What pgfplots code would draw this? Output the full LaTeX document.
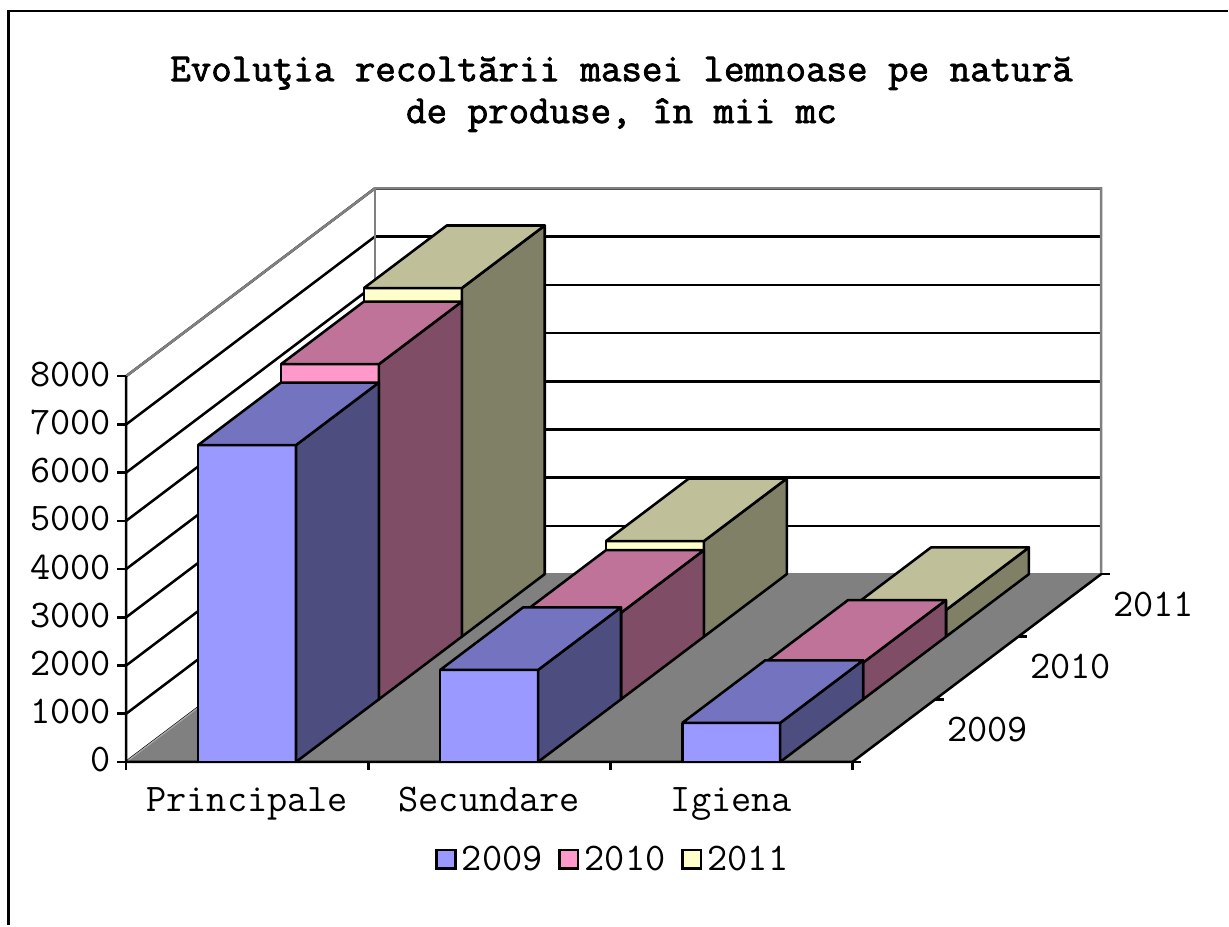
\documentclass[border=0pt]{standalone}
\usepackage{fontspec}
\setmainfont{Liberation Mono}
\newfontfamily\labelfont{Latin Modern Mono}
\newfontfamily\titlefont[FakeBold=2]{Latin Modern Mono}
\usepackage{pgfplots}
\pgfplotsset{compat=1.18}

\definecolor{floorgray}{HTML}{808080}
\definecolor{bluefront}{HTML}{9999FF}
\definecolor{bluetop}{HTML}{7373BF}
\definecolor{blueside}{HTML}{4D4D80}
\definecolor{pinkfront}{HTML}{FF99CC}
\definecolor{pinktop}{HTML}{BF7399}
\definecolor{pinkside}{HTML}{804D66}
\definecolor{yellowfront}{HTML}{FFFFCC}
\definecolor{yellowtop}{HTML}{BFBF99}
\definecolor{yellowside}{HTML}{808066}

% category, series row, value, colour prefix
\newcommand{\bbar}[4]{%
  \pgfmathsetmacro{\xa}{#1+0.297}%
  \pgfmathsetmacro{\xb}{#1+0.7015}%
  \pgfmathsetmacro{\yb}{#2+1}%
  \addplot3[face,fill=#4front] coordinates {(\xa,#2,0)(\xb,#2,0)(\xb,#2,#3)(\xa,#2,#3)(\xa,#2,0)};
  \addplot3[face,fill=#4side] coordinates {(\xb,#2,0)(\xb,\yb,0)(\xb,\yb,#3)(\xb,#2,#3)(\xb,#2,0)};
  \addplot3[face,fill=#4top] coordinates {(\xa,#2,#3)(\xb,#2,#3)(\xb,\yb,#3)(\xa,\yb,#3)(\xa,#2,#3)};
}

\begin{document}
\begin{tikzpicture}
\begin{axis}[
  x={(181.75pt,0pt)}, y={(62.25pt,47pt)}, z={(0pt,0.0361875pt)},
  xmin=0, xmax=3, ymin=0, ymax=3, zmin=0, zmax=8000,
  clip=false,
  axis line style={draw=none},
  major tick length=0pt,
  xtick={0,1,2,3}, x tick label as interval,
  xticklabels={Principale,Secundare,Igiena},
  ytick={0,1,2,3}, y tick label as interval,
  yticklabels={2009,2010,2011},
  ztick={0,1000,...,8000},
  zmajorgrids,
  grid style={black,line width=1.9pt},
  /pgf/number format/assume math mode=true,
  /pgf/number format/1000 sep={},
  ticklabel style={font=\labelfont\fontsize{29.4}{34}\selectfont,text=black},
  x tick label style={anchor=north,yshift=-15.5pt},
  y tick label style={anchor=west,xshift=36.5pt,yshift=0.8pt},
  z tick label style={anchor=east,xshift=-8pt,yshift=1.5pt},
  title={Evoluţia recoltării masei lemnoase pe natură\\de produse, în mii mc},
  title style={at={(axis description cs:0.508,1.15)},anchor=center,align=center,
    font=\titlefont\fontsize{29.9}{31.5}\selectfont},
  legend columns=3,
  legend style={at={(axis description cs:0.4995,-0.170)},anchor=center,draw=none,
    fill=none,font=\labelfont\fontsize{29.4}{34}\selectfont,
    /tikz/every even column/.append style={column sep=9.75pt},
    /tikz/every odd column/.append style={column sep=2pt}},
  legend image code/.code={\draw[#1,line width=1.9pt] (0pt,-7pt) rectangle (14pt,7pt);},
  face/.style={draw=black,line width=1.9pt,line join=round},
  wall/.style={draw=floorgray,line width=1.9pt},
  edge/.style={draw=black,line width=1.9pt},
]
\addlegendimage{fill=bluefront,draw=black}\addlegendentry{2009}
\addlegendimage{fill=pinkfront,draw=black}\addlegendentry{2010}
\addlegendimage{fill=yellowfront,draw=black}\addlegendentry{2011}

% floor and edges of the walls
\addplot3[fill=floorgray,draw=none] coordinates {(0,0,0)(3,0,0)(3,3,0)(0,3,0)(0,0,0)};
\addplot3[wall] coordinates {(0,0,8000)(0,3,8000)(3,3,8000)(3,3,0)};
\addplot3[wall] coordinates {(0,3,8000)(0,3,0)(3,3,0)};
\addplot3[draw=floorgray!70,line width=1pt] coordinates {(0,0,0)(0,3,0)};
\addplot3[edge] coordinates {(0,0,8000)(0,0,0)(3,0,0)(3,3,0)};

% tick marks
\pgfplotsinvokeforeach{0,1000,...,8000}{
  \addplot3[edge] coordinates {(0,0,#1)(-0.0371,0,#1)};
}
\pgfplotsinvokeforeach{0,1,2,3}{
  \addplot3[edge] coordinates {(#1,0,0)(#1,0,-170)};
  \addplot3[edge] coordinates {(3,#1,0)(3.0371,#1,0)};
}

% 2011
\bbar{0}{2}{7230}{yellow}
\bbar{1}{2}{1983}{yellow}
\bbar{2}{2}{553}{yellow}
% 2010
\bbar{0}{1}{6950}{pink}
\bbar{1}{1}{1795}{pink}
\bbar{2}{1}{760}{pink}
% 2009
\bbar{0}{0}{6570}{blue}
\bbar{1}{0}{1907}{blue}
\bbar{2}{0}{808}{blue}

\coordinate (O) at (axis cs:0,0,0);
\end{axis}
\pgfresetboundingbox
\begin{scope}[shift={(O)},x=0.75pt,y=-0.75pt,shift={(-126.3,-762.7)}]
  \draw[black,line width=1.9pt] (8.5,926)--(8.5,11)--(1229,11);
  \path[use as bounding box] (0,0) rectangle (1229,926);
\end{scope}
\end{tikzpicture}
\end{document}
